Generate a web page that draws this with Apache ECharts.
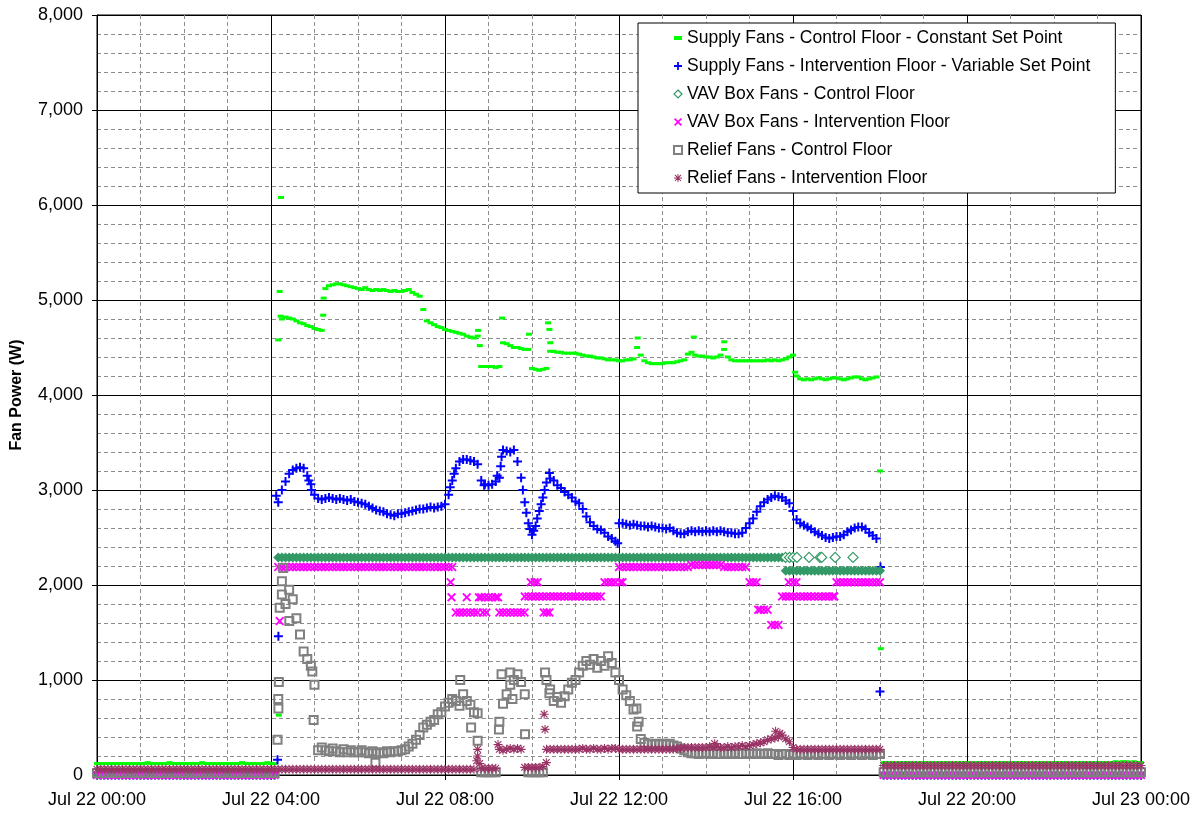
<!DOCTYPE html>
<html>
<head>
<meta charset="utf-8">
<title>Fan Power</title>
<script src="https://cdn.jsdelivr.net/npm/echarts@6/dist/echarts.min.js"></script>
<style>
    html, body { margin: 0; padding: 0; background: #fff; }
    #chart { width: 1196px; height: 815px; }
</style>
</head>
<body>
<div id="chart"></div>
<script>
// one value every 5 minutes, 00:00 .. 24:00 (12 per row = 1 hour)
var seriesNames = [
    'Supply Fans - Control Floor - Constant Set Point',
    'Supply Fans - Intervention Floor - Variable Set Point',
    'VAV Box Fans - Control Floor',
    'VAV Box Fans - Intervention Floor',
    'Relief Fans - Control Floor',
    'Relief Fans - Intervention Floor'
];
var xTickLabels = ['Jul 22 00:00', 'Jul 22 04:00', 'Jul 22 08:00', 'Jul 22 12:00',
    'Jul 22 16:00', 'Jul 22 20:00', 'Jul 23 00:00'];

var supplyCtrl = [
    120,120,120,120,120,120,120,120,120,120,120,120,
    120,120,130,120,120,120,120,120,130,120,120,120,
    120,120,120,120,120,130,120,120,120,120,120,120,
    120,120,120,120,130,120,120,120,120,120,120,130,
    120,120,4580,4800,4820,4810,4800,4780,4760,4750,4730,4720,
    4700,4690,4680,5120,5150,5160,5170,5170,5160,5150,5140,5130,
    5120,5110,5130,5110,5100,5110,5100,5110,5100,5090,5100,5090,
    5090,5100,5110,5080,5060,5040,4900,4780,4760,4740,4720,4710,
    4690,4680,4670,4660,4650,4640,4620,4610,4600,4620,4300,4300,
    4300,4300,4290,4300,4550,4540,4520,4500,4500,4490,4480,4480,
    4280,4270,4260,4270,4280,4460,4460,4450,4450,4440,4440,4440,
    4440,4430,4420,4410,4410,4400,4390,4390,4380,4370,4370,4370,
    4360,4360,4370,4370,4380,4500,4420,4360,4340,4330,4330,4330,
    4330,4340,4340,4340,4350,4360,4370,4430,4450,4420,4410,4410,
    4400,4400,4390,4400,4420,4480,4400,4370,4360,4360,4360,4360,
    4360,4360,4360,4360,4360,4370,4360,4370,4360,4370,4380,4400,
    4420,4200,4170,4160,4170,4160,4170,4180,4170,4160,4170,4180,
    4180,4170,4160,4170,4180,4190,4190,4170,4160,4170,4180,4190,
    3200,130,130,130,130,130,130,130,130,130,130,130,
    130,130,130,130,130,130,130,130,130,130,130,130,
    130,130,130,130,130,130,130,130,130,130,130,130,
    130,130,130,130,130,130,130,130,130,130,130,130,
    130,130,130,130,130,130,130,130,130,130,130,130,
    130,130,130,130,130,140,130,140,140,130,140,130,
    130
];
var supplyCtrlExtra = [[4.23, 6080], [4.2, 5090], [4.22, 4830], [4.18, 630], [5.2, 4840], [5.21, 5020],
    [8.76, 4680], [8.8, 4520], [9.31, 4810], [9.93, 4640], [10.37, 4760], [10.4, 4690], [10.42, 4550],
    [12.43, 4600], [13.72, 4610], [14.42, 4560], [16.05, 4240], [18.02, 1330], [18.04, 250]];

var supplyInt = [
    0,0,0,0,0,0,0,0,0,0,0,0,
    0,0,0,0,0,0,0,0,0,0,0,0,
    0,0,0,0,0,0,0,0,0,0,0,0,
    0,0,0,0,0,0,0,0,0,0,0,0,
    0,0,2870,3000,3090,3170,3210,3230,3240,3230,3150,3060,
    2950,2910,2900,2910,2920,2910,2900,2910,2900,2890,2900,2880,
    2870,2860,2850,2830,2810,2790,2780,2770,2750,2740,2730,2750,
    2750,2760,2770,2780,2790,2800,2800,2810,2820,2810,2820,2830,
    2850,2950,3100,3230,3300,3320,3320,3310,3300,3270,3100,3060,
    3050,3060,3090,3130,3420,3410,3400,3420,3300,3130,2870,2650,
    2530,2620,2780,2920,3080,3120,3100,3050,3020,2980,2950,2920,
    2880,2860,2800,2720,2660,2620,2590,2580,2550,2510,2490,2460,
    2650,2650,2640,2630,2640,2630,2620,2620,2610,2620,2610,2600,
    2600,2590,2600,2570,2550,2540,2540,2560,2570,2560,2570,2560,
    2570,2560,2570,2560,2570,2560,2550,2550,2540,2540,2550,2600,
    2650,2700,2770,2830,2870,2900,2920,2940,2930,2920,2890,2860,
    2780,2690,2650,2630,2610,2590,2560,2540,2520,2500,2490,2500,
    2510,2510,2530,2560,2580,2600,2610,2610,2590,2550,2520,2490,
    880,0,0,0,0,0,0,0,0,0,0,0,
    0,0,0,0,0,0,0,0,0,0,0,0,
    0,0,0,0,0,0,0,0,0,0,0,0,
    0,0,0,0,0,0,0,0,0,0,0,0,
    0,0,0,0,0,0,0,0,0,0,0,0,
    0,0,0,0,0,0,0,0,0,0,0,0,
    0
];
var supplyIntExtra = [[4.17, 1460], [4.15, 160], [4.12, 2940], [4.87, 3100], [4.93, 3000],
    [8.12, 3030], [8.21, 3170], [8.9, 3050], [9.2, 3150], [9.28, 3250], [9.3, 3350],
    [9.79, 3000], [9.87, 2760], [9.95, 2590], [10.04, 2570], [10.12, 2700], [10.21, 2850],
    [10.29, 3000], [10.4, 3180], [11.97, 2440], [18.01, 2190]];

var vavCtrl = [
    0,0,0,0,0,0,0,0,0,0,0,0,
    0,0,0,0,0,0,0,0,0,0,0,0,
    0,0,0,0,0,0,0,0,0,0,0,0,
    0,0,0,0,0,0,0,0,0,0,0,0,
    0,0,2290,2290,2290,2290,2290,2290,2290,2290,2290,2290,
    2290,2290,2290,2290,2290,2290,2290,2290,2290,2290,2290,2290,
    2290,2290,2290,2290,2290,2290,2290,2290,2290,2290,2290,2290,
    2290,2290,2290,2290,2290,2290,2290,2290,2290,2290,2290,2290,
    2290,2290,2290,2290,2290,2290,2290,2290,2290,2290,2290,2290,
    2290,2290,2290,2290,2290,2290,2290,2290,2290,2290,2290,2290,
    2290,2290,2290,2290,2290,2290,2290,2290,2290,2290,2290,2290,
    2290,2290,2290,2290,2290,2290,2290,2290,2290,2290,2290,2290,
    2290,2290,2290,2290,2290,2290,2290,2290,2290,2290,2290,2290,
    2290,2290,2290,2290,2290,2290,2290,2290,2290,2290,2290,2290,
    2290,2290,2290,2290,2290,2290,2290,2290,2290,2290,2290,2290,
    2290,2290,2290,2290,2290,2290,2290,2290,2290,2290,2150,2150,
    2150,2150,2150,2150,2150,2150,2150,2150,2150,2150,2150,2150,
    2150,2150,2150,2150,2150,2150,2150,2150,2150,2150,2150,2150,
    2150,0,0,0,0,0,0,0,0,0,0,0,
    0,0,0,0,0,0,0,0,0,0,0,0,
    0,0,0,0,0,0,0,0,0,0,0,0,
    0,0,0,0,0,0,0,0,0,0,0,0,
    0,0,0,0,0,0,0,0,0,0,0,0,
    0,0,0,0,0,0,0,0,0,0,0,0,
    0
];
var vavCtrlExtra = [[15.83, 2290], [15.92, 2290], [16.0, 2290], [16.09, 2290], [16.37, 2290],
    [16.62, 2290], [16.66, 2290], [16.97, 2290], [17.38, 2290]];

var vavInt = [
    0,0,0,0,0,0,0,0,0,0,0,0,
    0,0,0,0,0,0,0,0,0,0,0,0,
    0,0,0,0,0,0,0,0,0,0,0,0,
    0,0,0,0,0,0,0,0,0,0,0,0,
    0,0,2190,2190,2190,2190,2190,2190,2190,2190,2190,2190,
    2190,2190,2190,2190,2190,2190,2190,2190,2190,2190,2190,2190,
    2190,2190,2190,2190,2190,2190,2190,2190,2190,2190,2190,2190,
    2190,2190,2190,2190,2190,2190,2190,2190,2190,2190,2190,2190,
    2190,2190,2190,1710,1710,1710,1710,1710,1710,1710,1870,1870,
    1870,1870,1870,1710,1710,1710,1710,1710,1710,1710,1880,1880,
    1880,1880,1880,1880,1880,1880,1880,1880,1880,1880,1880,1880,
    1880,1880,1880,1880,1880,1880,1880,1880,2030,2030,2030,2030,
    2190,2190,2190,2190,2190,2190,2190,2190,2190,2190,2190,2190,
    2190,2190,2190,2190,2190,2190,2190,2190,2210,2210,2210,2210,
    2210,2210,2210,2210,2210,2190,2190,2190,2190,2190,2190,2190,
    2030,2030,2030,1740,1740,1740,1580,1580,1580,1880,1880,1880,
    1880,1880,1880,1880,1880,1880,1880,1880,1880,1880,1880,1880,
    2030,2030,2030,2030,2030,2030,2030,2030,2030,2030,2030,2030,
    2030,0,0,0,0,0,0,0,0,0,0,0,
    0,0,0,0,0,0,0,0,0,0,0,0,
    0,0,0,0,0,0,0,0,0,0,0,0,
    0,0,0,0,0,0,0,0,0,0,0,0,
    0,0,0,0,0,0,0,0,0,0,0,0,
    0,0,0,0,0,0,0,0,0,0,0,0,
    0
];
var vavIntExtra = [[4.2, 1620], [8.13, 2030], [8.15, 1870], [8.5, 1870], [8.78, 1870], [8.87, 1710],
    [8.95, 1710], [9.22, 1870], [9.83, 1710], [9.97, 2030], [10.06, 2030], [10.13, 2030],
    [10.27, 1710], [10.34, 1710], [10.4, 1710], [12.03, 2030], [12.08, 2030], [15.2, 1740],
    [15.9, 2030], [16.0, 2030], [16.08, 2030], [16.95, 1880]];

var reliefCtrl = [
    20,20,20,20,20,20,20,20,20,20,20,20,
    20,20,20,20,20,20,20,20,20,20,20,20,
    20,20,20,20,20,20,20,20,20,20,20,20,
    20,20,20,20,20,20,20,20,20,20,20,20,
    20,20,800,1900,1800,1950,1850,1650,1480,1300,1220,1150,
    950,260,290,260,250,280,250,240,270,240,260,240,
    240,260,240,230,250,230,240,230,250,240,250,250,
    260,270,300,330,370,420,500,530,560,580,640,660,
    720,760,800,780,730,850,780,740,660,360,30,30,
    30,30,30,560,750,850,950,1000,1060,980,850,30,
    30,30,30,30,1000,900,780,820,760,830,900,970,
    1000,1080,1150,1200,1160,1220,1130,1200,1150,1250,1180,1080,
    1000,900,840,780,690,510,380,340,330,320,330,320,
    330,320,330,310,300,280,260,240,230,230,220,230,
    230,220,230,220,220,230,220,220,230,220,220,230,
    220,220,230,220,220,230,220,220,210,220,220,210,
    220,210,220,220,210,220,220,210,220,220,210,220,
    220,210,220,220,210,220,220,210,220,220,210,220,
    220,30,30,30,30,30,30,30,30,30,30,30,
    30,30,30,30,30,30,30,30,30,30,30,30,
    30,30,30,30,30,30,30,30,30,30,30,30,
    30,30,30,30,30,30,30,30,30,30,30,30,
    30,30,30,30,30,30,30,30,30,30,30,30,
    30,30,30,30,30,30,30,30,30,30,30,30,
    30
];
var reliefCtrlExtra = [[4.15, 370], [4.17, 700], [4.18, 980], [4.2, 1760], [4.25, 2040], [4.28, 2180],
    [4.42, 1620], [4.95, 1090], [4.98, 580], [6.4, 130], [8.35, 1000], [8.6, 500], [8.75, 650],
    [9.24, 480], [9.3, 1060], [9.5, 1080], [9.55, 800], [9.84, 430], [10.3, 1080], [10.4, 860],
    [12.4, 700], [12.45, 560]];

var reliefInt = [
    60,60,60,60,60,60,60,60,60,60,60,60,
    60,60,60,60,60,60,60,60,60,60,60,60,
    60,60,60,60,60,60,60,60,60,60,60,60,
    60,60,60,60,60,60,60,60,60,60,60,60,
    60,60,60,60,60,60,60,60,60,60,60,60,
    60,60,60,60,60,60,60,60,60,60,60,60,
    60,60,60,60,60,60,60,60,60,60,60,60,
    60,60,60,60,60,60,60,60,60,60,60,60,
    60,60,60,60,60,60,60,60,60,270,70,70,
    70,70,70,270,260,270,280,270,280,270,80,80,
    80,80,80,90,270,270,270,270,270,270,270,270,
    270,270,280,270,270,280,270,270,280,270,280,280,
    270,270,270,270,270,270,270,270,270,270,270,270,
    270,270,270,270,280,280,290,290,290,290,290,290,
    290,300,290,300,290,290,300,290,300,300,310,300,
    310,320,330,340,350,370,380,390,400,420,380,350,
    290,270,270,270,270,270,270,270,270,270,270,270,
    270,270,270,270,270,270,270,270,270,270,270,270,
    270,100,100,100,100,100,100,100,100,100,100,100,
    100,100,100,100,100,100,100,100,100,100,100,100,
    100,100,100,100,100,100,100,100,100,100,100,100,
    100,100,100,100,100,100,100,100,100,100,100,100,
    100,100,100,100,100,100,100,100,100,100,100,100,
    100,100,100,100,100,100,100,100,100,100,100,100,
    100
];
var reliefIntExtra = [[8.73, 150], [8.75, 200], [8.8, 120], [9.22, 320], [10.28, 640], [10.3, 480],
    [10.33, 130], [14.2, 330], [15.6, 460], [15.7, 440]];

var PLUS = 'path://M3.5,0h2v3.5h3.5v2h-3.5v3.5h-2v-3.5h-3.5v-2h3.5z';
var CROSS = 'path://M0,1.3L1.3,0L4.5,3.2L7.7,0L9,1.3L5.8,4.5L9,7.7L7.7,9L4.5,5.8L1.3,9L0,7.7L3.2,4.5Z';
var STAR = 'path://M4,0h1.1v4h4v1.1h-4v4h-1.1v-4h-4v-1.1h4z M0.7,1.5L1.5,0.7L4.5,3.7L7.5,0.7L8.3,1.5L5.3,4.5L8.3,7.5L7.5,8.3L4.5,5.3L1.5,8.3L0.7,7.5L3.7,4.5Z';
var DASH = 'path://M0,0h6v3h-6z';

function toPoints(values, extras) {
    var pts = [];
    for (var i = 0; i < values.length; i++) {
        pts.push([i / 12, values[i]]);
    }
    return pts.concat(extras);
}

function scatter(name, data, symbol, size, color, z) {
    return {
        name: name,
        type: 'scatter',
        data: data,
        symbol: symbol,
        symbolSize: size,
        z: z,
        silent: true,
        itemStyle: { color: color, opacity: 1 }
    };
}

var myChart = echarts.init(document.getElementById('chart'), null, { renderer: 'canvas' });

var hollowDiamonds = vavCtrlExtra.map(function (p) {
    return { value: p, itemStyle: { color: '#fff', borderColor: '#339966', borderWidth: 1.2 } };
});

var reliefCtrlSeries = scatter(seriesNames[4], toPoints(reliefCtrl, reliefCtrlExtra), 'rect', 8, 'transparent', 6);
reliefCtrlSeries.itemStyle = { color: 'transparent', borderColor: '#808080', borderWidth: 2, opacity: 1 };

var option = {
    animation: false,
    backgroundColor: '#fff',
    textStyle: { fontFamily: 'Liberation Sans, Arial, sans-serif' },
    grid: {
        left: 97, right: 55, top: 15, bottom: 40,
        show: true, borderColor: '#000', borderWidth: 1
    },
    legend: {
        orient: 'vertical',
        left: 638,
        top: 23,
        backgroundColor: '#fff',
        borderColor: '#000',
        borderWidth: 1,
        borderRadius: 0,
        padding: [6, 25, 6, 35],
        itemWidth: 8,
        itemHeight: 8,
        itemGap: 10,
        textStyle: { fontSize: 17.5, color: '#000', lineHeight: 18 },
        data: [
            { name: seriesNames[0], icon: DASH },
            { name: seriesNames[1] },
            { name: seriesNames[2], itemStyle: { color: 'transparent', borderColor: '#339966', borderWidth: 1.2 } },
            { name: seriesNames[3] },
            { name: seriesNames[4] },
            { name: seriesNames[5] }
        ]
    },
    xAxis: {
        type: 'value',
        min: 0,
        max: 24,
        interval: 4,
        axisLine: { show: true, lineStyle: { color: '#000', width: 1 } },
        axisTick: { show: true, length: 5, lineStyle: { color: '#000' } },
        axisLabel: {
            fontSize: 18, color: '#000', margin: 16, showMaxLabel: true,
            formatter: function (v) { return xTickLabels[Math.round(v / 4)]; }
        },
        splitLine: { show: true, lineStyle: { color: '#000', width: 1 } },
        minorTick: { show: false, splitNumber: 4 },
        minorSplitLine: { show: true, lineStyle: { color: '#8c8c8c', type: [4, 3], width: 1 } }
    },
    yAxis: {
        type: 'value',
        min: 0,
        max: 8000,
        interval: 1000,
        name: 'Fan Power (W)',
        nameLocation: 'middle',
        nameGap: 72,
        nameTextStyle: { fontSize: 16, fontWeight: 'bold', color: '#000' },
        axisLine: { show: true, lineStyle: { color: '#000', width: 1 } },
        axisTick: { show: true, length: 5, lineStyle: { color: '#000' } },
        axisLabel: {
            fontSize: 18, color: '#000', margin: 14,
            formatter: function (v) { return v.toLocaleString('en-US'); }
        },
        splitLine: { show: true, lineStyle: { color: '#000', width: 1 } },
        minorTick: { show: false, splitNumber: 5 },
        minorSplitLine: { show: true, lineStyle: { color: '#8c8c8c', type: [4, 3], width: 1 } }
    },
    series: [
        scatter(seriesNames[0], toPoints(supplyCtrl, supplyCtrlExtra), 'rect', [6, 3], '#00ff00', 2),
        scatter(seriesNames[1], toPoints(supplyInt, supplyIntExtra), PLUS, 9, '#0000ff', 3),
        scatter(seriesNames[2], toPoints(vavCtrl, []).concat(hollowDiamonds), 'diamond', 10, '#339966', 4),
        scatter(seriesNames[3], toPoints(vavInt, vavIntExtra), CROSS, 9, '#ff00ff', 5),
        reliefCtrlSeries,
        scatter(seriesNames[5], toPoints(reliefInt, reliefIntExtra), STAR, 9, '#993366', 7)
    ]
};

myChart.setOption(option);
</script>
</body>
</html>
